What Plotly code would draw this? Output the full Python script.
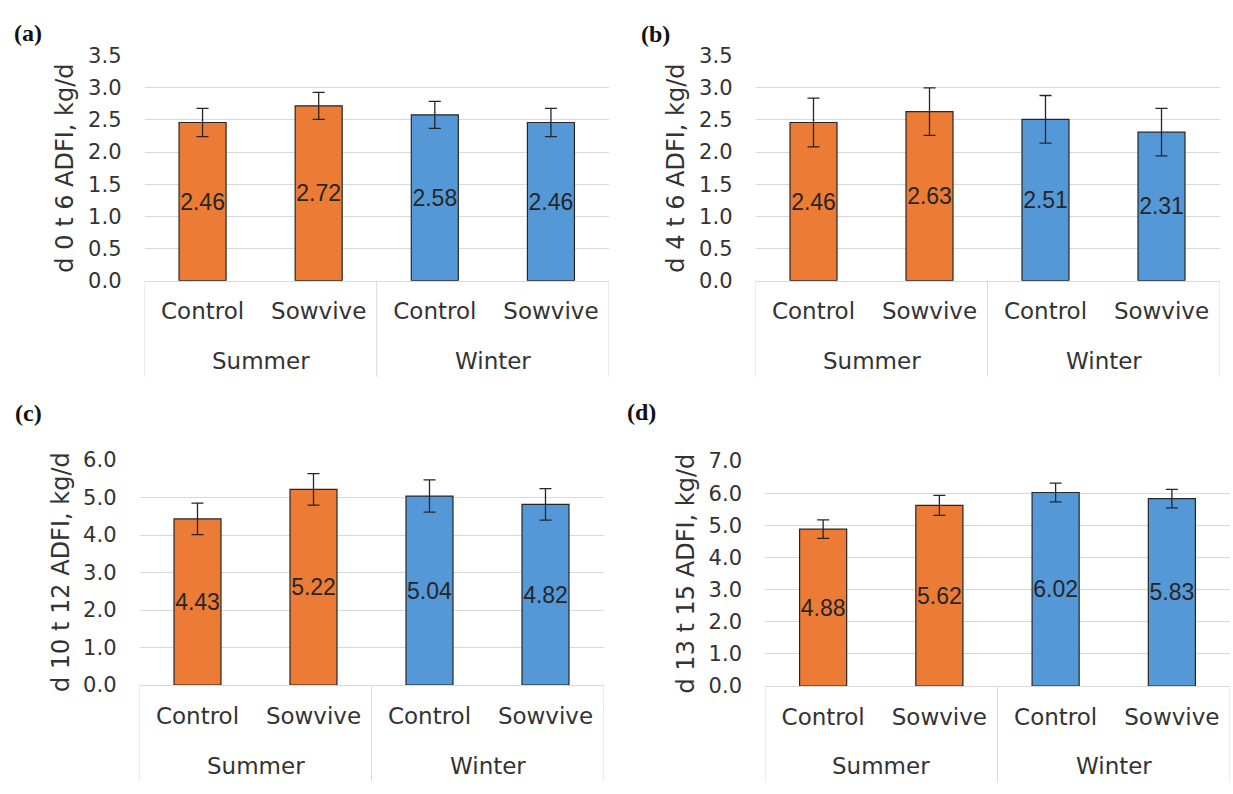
import plotly.graph_objects as go

seasons = ["Summer", "Summer", "Winter", "Winter"]
treatments = ["Control", "Sowvive", "Control", "Sowvive"]

vals_a = [2.46, 2.72, 2.58, 2.46]
err_a = [0.22, 0.21, 0.21, 0.22]
vals_b = [2.46, 2.63, 2.51, 2.31]
err_b = [0.38, 0.37, 0.37, 0.37]
vals_c = [4.43, 5.22, 5.04, 4.82]
err_c = [0.42, 0.42, 0.43, 0.42]
vals_d = [4.88, 5.62, 6.02, 5.83]
err_d = [0.29, 0.31, 0.29, 0.29]

titles = ["d 0 t 6 ADFI, kg/d", "d 4 t 6 ADFI, kg/d",
          "d 10 t 12 ADFI, kg/d", "d 13 t 15 ADFI, kg/d"]
panel_labels = ["(a)", "(b)", "(c)", "(d)"]
yranges = [3.5, 3.5, 6.0, 7.0]
ydticks = [0.5, 0.5, 1.0, 1.0]

W, H = 1233, 794
# plot boxes in pixels: left, right, top(ymax), bottom(y=0)
boxes = [(144.5, 609, 45, 277), (755.5, 1219.5, 45, 277),
         (139.5, 603.5, 462, 694), (765, 1230, 463, 695)]
label_pos = [(28, 22), (655, 23), (28, 414), (641, 412)]

ORANGE = "#EC7B35"
BLUE = "#5598D8"
TXT = "#333333"
GRID = "#d9d9d9"
FONT = "DejaVu Sans"

pos = list(range(len(treatments)))
season_colors = {"Summer": ORANGE, "Winter": BLUE}
season_names = list(dict.fromkeys(seasons))

fig = go.Figure()
data = [(vals_a, err_a), (vals_b, err_b), (vals_c, err_c), (vals_d, err_d)]

for i, (vals, errs) in enumerate(data):
    xa = "x" if i == 0 else f"x{i+1}"
    ya = "y" if i == 0 else f"y{i+1}"
    for season in season_names:
        idx = [k for k, s in enumerate(seasons) if s == season]
        fig.add_trace(go.Bar(
            x=[pos[k] for k in idx],
            y=[vals[k] for k in idx],
            error_y=dict(type="data", array=[errs[k] for k in idx],
                         color="#262626", thickness=1.3, width=6),
            marker=dict(color=season_colors[season],
                        line=dict(color="#262626", width=1.2)),
            width=0.405,
            text=[f"{vals[k]:.2f}" for k in idx],
            textposition="inside",
            insidetextanchor="middle",
            textangle=0,
            constraintext="none",
            textfont=dict(family="Liberation Sans", size=23, color="#262626"),
            xaxis=xa, yaxis=ya, showlegend=False,
        ))

layout = dict(
    width=W, height=H, margin=dict(l=0, r=0, t=0, b=0),
    paper_bgcolor="white", plot_bgcolor="white",
    barmode="overlay",
    font=dict(family=FONT, color=TXT),
)
annotations = []
shapes = []
for i in range(4):
    l, r, t, b = boxes[i]
    sx = "" if i == 0 else str(i + 1)
    xref = f"x{sx}"
    layout[f"xaxis{sx}"] = dict(
        domain=[l / W, r / W], anchor=f"y{sx}",
        range=[-0.5, len(pos) - 0.5],
        tickmode="array", tickvals=pos, ticktext=treatments,
        showline=True, linecolor=GRID, linewidth=1,
        tickfont=dict(family=FONT, size=23, color=TXT),
        ticks="", ticklabelstandoff=10, showgrid=False, zeroline=False,
        fixedrange=True,
    )
    layout[f"yaxis{sx}"] = dict(
        domain=[1 - b / H, 1 - t / H], anchor=f"x{sx}",
        range=[0, yranges[i]], dtick=ydticks[i], tickformat=".1f",
        showgrid=True, gridcolor=GRID, gridwidth=1, zeroline=False,
        showline=False, ticks="", ticklabelstandoff=22,
        tickfont=dict(family=FONT, size=21, color=TXT),
        fixedrange=True,
    )
    # group labels and dividers of the two-level category axis
    bounds = [-0.5]
    for season in season_names:
        idx = [k for k, s in enumerate(seasons) if s == season]
        center = sum(pos[k] for k in idx) / len(idx)
        bounds.append(pos[idx[-1]] + 0.5)
        annotations.append(dict(
            x=center, y=1 - (b + 83) / H, xref=xref, yref="paper",
            text=season, showarrow=False,
            font=dict(family=FONT, size=23, color=TXT),
            xanchor="center", yanchor="middle",
        ))
    for bx in bounds:
        shapes.append(dict(
            type="line", xref=xref, yref="paper",
            x0=bx, x1=bx, y0=1 - b / H, y1=1 - (b + 99) / H,
            line=dict(color=GRID, width=1),
        ))
    annotations.append(dict(
        x=(l - 79) / W, y=1 - ((t + b) / 2) / H, xref="paper", yref="paper",
        text=titles[i], textangle=-90, showarrow=False,
        font=dict(family=FONT, size=24, color=TXT),
        xanchor="center", yanchor="middle",
    ))
    lx, ly = label_pos[i]
    annotations.append(dict(
        x=lx / W, y=1 - ly / H, xref="paper", yref="paper",
        text=f"<b>{panel_labels[i]}</b>", showarrow=False,
        font=dict(family="Liberation Serif", size=24, color="#111111"),
        xanchor="center", yanchor="middle",
    ))
layout["annotations"] = annotations
layout["shapes"] = shapes
fig.update_layout(**layout)
fig.write_html("out.html")
